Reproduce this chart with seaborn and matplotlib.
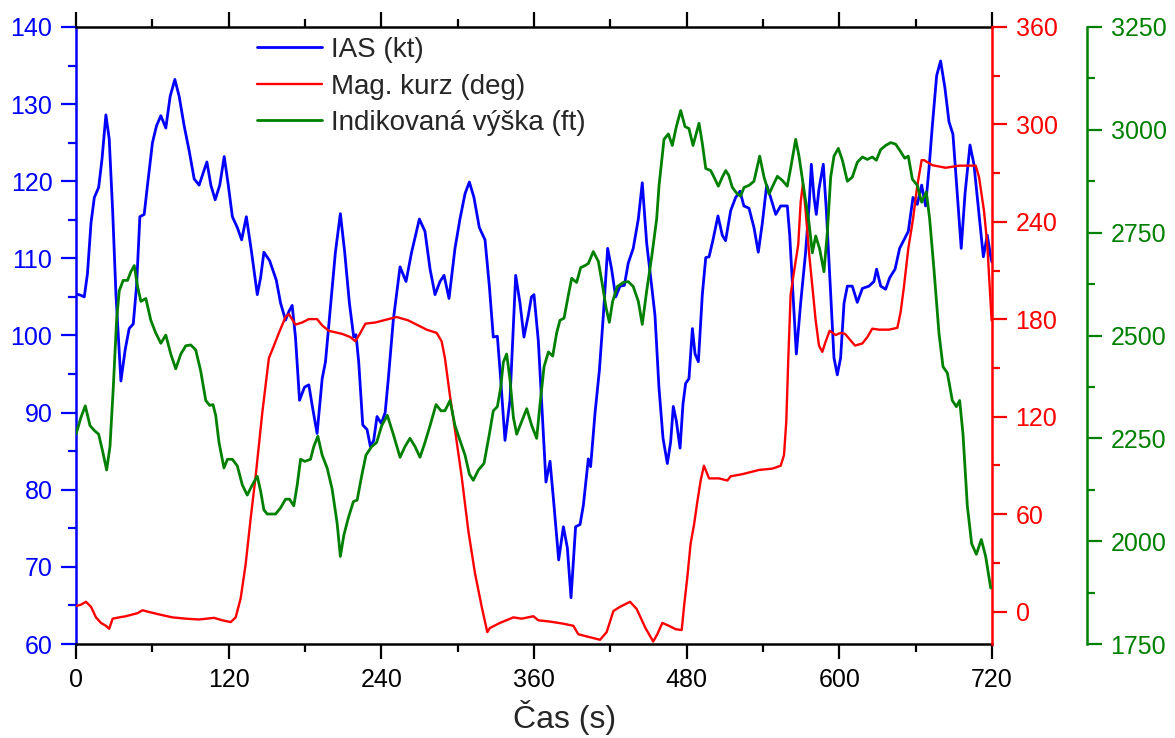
import matplotlib
matplotlib.use("Agg")
import matplotlib.pyplot as plt
from matplotlib.ticker import MultipleLocator
import pandas as pd
import seaborn as sns

# --- flight record: indicated airspeed ---
ias_t = [0, 4, 6.5, 9, 11.8, 14.4, 17.8, 20.4, 23.5, 26.1, 28.8, 31.4, 35.3, 38.7, 41.8, 45, 47.6,
         50.2, 53.6, 56.2, 60.1, 63.3, 66.7, 70.6, 74, 77.7, 81.1, 85, 89, 92.9, 96.8, 100, 102.9,
         106, 109.4, 113, 116.5, 119.7, 122.9, 126.8, 130.2, 133.9, 138, 142.5, 145.1, 147.7, 152.2,
         157.4, 160.8, 164.7, 167.3, 169.9, 172.5, 175.7, 179.6, 183, 186.1, 189.5, 193.5, 196.1,
         200, 203.9, 207.8, 211.2, 214.9, 218.3, 220.1, 222.2, 225.4, 228.8, 231.4, 234, 236.6, 240,
         243, 245.5, 249.4, 254.7, 259.4, 263.8, 269.9, 274.3, 278.3, 282.2, 286.1, 289.3, 293.2,
         297.9, 301.8, 305.8, 309.2, 312.8, 317, 321.5, 324.9, 328, 331.2, 333.8, 337.2, 341.1,
         345.6, 349, 352.1, 355.5, 358, 360, 363.4, 366.8, 369.4, 372.6, 375.7, 379.4, 383.1, 386.2,
         389.1, 392.7, 396.2, 398.8, 402.7, 404.5, 408, 411.4, 414.5, 417.9, 421, 424.2, 427.6, 431,
         434.1, 438, 442, 445.1, 448.6, 452.5, 455.1, 458.2, 461.4, 464.8, 467.4, 469.5, 471.9,
         474.8, 477.1, 479.2, 481.8, 484.5, 486.6, 489.2, 492.3, 495, 497.6, 500.7, 504.6, 508,
         510.6, 514.6, 518.5, 521.9, 525, 529, 532.9, 536.3, 539.5, 542.9, 546, 550, 553.9, 559.1,
         561, 563.6, 566.2, 569.6, 573.5, 576.2, 578, 580.1, 581.9, 584, 587.4, 589.8, 593.2, 595.8,
         598.4, 601, 603.7, 606.3, 610.2, 614.1, 618.1, 623.3, 627.2, 629.3, 632.5, 636.4, 639.6,
         643.8, 647.4, 650.8, 654.2, 657.9, 661.3, 664.7, 667.8, 670.5, 673.1, 676.5, 679.6, 683,
         686.2, 689.3, 692.7, 695.8, 698.8, 702.7, 705.8, 709.8, 713.2, 716.3, 719, 720]
ias_kt = [105.4, 105.2, 105, 108, 114.6, 117.9, 119.2, 122.8, 128.6, 125.5, 116.2, 105.3, 94.1, 98.2,
          100.9, 101.5, 106.4, 115.4, 115.7, 119.5, 125, 127.2, 128.5, 126.9, 131, 133.2, 131, 127.2,
          123.9, 120.3, 119.5, 121.1, 122.5, 119.5, 117.6, 119.5, 123.2, 119.5, 115.4, 114, 112.4,
          115.4, 110.8, 105.3, 107.5, 110.8, 109.7, 107.2, 104.2, 102, 103.1, 103.9, 99.8, 91.6, 93.3,
          93.6, 90.5, 87.3, 94.4, 96.6, 103.7, 110.8, 115.8, 110.8, 104.2, 99.8, 100.1, 96.6, 88.4,
          87.8, 85.6, 86.4, 89.5, 88.6, 90, 94.4, 102, 108.9, 107, 110.8, 115.1, 113.5, 108.6, 105.3,
          107, 107.8, 104.8, 111.3, 115.1, 118.4, 119.9, 117.9, 114, 112.4, 106.4, 99.8, 99.9, 94.4,
          86.4, 91.6, 107.8, 104.2, 99.8, 102.6, 105, 105.3, 99.3, 88.9, 81, 83.7, 78, 70.9, 75.2,
          72.5, 66, 75.2, 75.5, 78, 84, 83, 90, 95.5, 102.6, 111.3, 108.6, 105, 106.4, 106.5, 109.4,
          111.3, 115.1, 119.8, 111.9, 106.4, 102.6, 93.3, 86.7, 83.4, 86.2, 90.8, 88.9, 85.4, 91.1,
          93.8, 94.4, 100.9, 97.6, 96.6, 105.3, 110.1, 110.2, 112.4, 115.5, 113, 112.3, 116.2, 117.9,
          118.7, 116.8, 116.5, 114, 110.8, 114.6, 119.5, 117.9, 115.7, 116.8, 116.8, 113, 105.3, 97.6,
          104.2, 110.8, 116.8, 122.2, 117.9, 115.7, 119, 122.2, 116.2, 105.3, 97.1, 94.9, 97.1, 104.2,
          106.4, 106.4, 104.3, 106.1, 106.4, 107, 108.6, 106.4, 106, 107.5, 108.6, 111.3, 112.4, 113.5,
          117.9, 117, 119.5, 116.8, 121.7, 127.2, 133.7, 135.6, 132.1, 127.7, 126.1, 118.4, 111.3,
          118.4, 124.7, 122.2, 115.7, 110.2, 113, 110.2, 109.5]

# --- magnetic heading ---
hdg_t = [0, 3.9, 7.8, 11.8, 15.7, 19.6, 23.5, 26.1, 28.8, 34, 39.2, 44.4, 48.4, 52.3, 57.5, 65.4,
         75.8, 86.3, 96.7, 108.5, 115, 121.6, 125.5, 129.4, 133.3, 137.3, 141.2, 146.4, 151.6,
         155.6, 159.5, 164.7, 167.3, 172.5, 177.8, 183, 189.5, 193.5, 198.7, 209.2, 215.7, 219.6,
         223.5, 227.5, 235.3, 245.8, 252, 261.2, 267.8, 275.6, 283.5, 287.4, 290, 294, 297.9,
         303.1, 308.4, 313.6, 318.9, 323.3, 325.4, 333.3, 343.8, 350.3, 359.5, 363.4, 372.6, 383.1,
         391, 394.8, 401.4, 411.9, 417.1, 422.4, 427.6, 435.5, 440.7, 447.5, 453.7, 456.9, 460.9,
         466.1, 471.4, 476.1, 477.9, 480.5, 483.1, 485.8, 488.4, 491, 493.6, 497.6, 505.4, 512,
         514.6, 523.8, 536.9, 547.3, 553.9, 556.5, 558.3, 559.9, 561.7, 563.6, 565.7, 567.7, 569.6,
         571.4, 573.5, 576.2, 578.8, 581.4, 584, 586.6, 589.3, 592.4, 597.1, 601, 604.5, 608.1,
         612.3, 618.1, 622, 625.9, 631.2, 639, 645.6, 648.2, 650.8, 654.2, 657.9, 661.3, 664.7,
         666.6, 673.1, 683.6, 694.1, 707.2, 709.8, 713.7, 716.3, 718.2, 719.7]
hdg_deg = [3.4, 4.2, 6, 2.9, -3.6, -7, -8.8, -10.6, -4.4, -3.6, -2.9, -1.8, -1, 0.8, -0.3, -1.8,
           -3.6, -4.4, -4.9, -3.9, -5.4, -6.5, -3.6, 8, 28.8, 57.4, 83.3, 122.2, 156, 163.8, 171.6,
           181.4, 183.2, 176.7, 178, 180.1, 180.1, 176.2, 172.9, 171, 169, 166.4, 171.6, 177.3, 178,
           180.1, 181.4, 179.3, 176.7, 173.6, 171.6, 166.4, 156, 132.6, 111.9, 83.3, 49.6, 23.6, 2.9,
           -12.7, -10.1, -7, -3.6, -4.4, -2.9, -5.4, -6.2, -7.5, -8.8, -14, -15.3, -17.4, -12.7, 0.3,
           2.9, 6, 1.6, -10, -18.5, -14, -7, -8.8, -10.9, -11.4, 2.9, 21, 41.8, 53.5, 67.7, 80.7, 89.8,
           82, 82, 80.7, 83.3, 84.6, 87.2, 88, 89.8, 96.3, 117, 156, 195, 205.3, 215.7, 226, 252,
           263.7, 246.8, 220.9, 200.1, 179.3, 163.8, 159.9, 166.4, 172.9, 170.3, 171.6, 171, 167.7,
           163.8, 165.1, 169, 174.2, 173.6, 173.6, 174.7, 184.5, 200.1, 223.5, 241.6, 262.4, 278, 278,
           274.9, 273.3, 274.6, 274.6, 267.6, 246.8, 226, 200.1, 179.3]

# --- indicated altitude ---
alt_t = [0, 3.9, 7.3, 11, 14.4, 17.8, 20.9, 24.1, 26.7, 29.3, 31.9, 34, 37.1, 40.5, 43.1, 45.8,
         48.4, 51, 54.9, 58.8, 62.7, 66.7, 70.6, 74.5, 78.4, 82.4, 86.3, 90.2, 94.1, 98, 102, 105.1,
         107.7, 109.8, 112.4, 116.3, 119, 122.9, 126.8, 130.7, 134.6, 138.6, 142.5, 145.1, 147.7,
         150.3, 156.9, 160.8, 164.7, 167.8, 171.2, 173.9, 176.5, 179.9, 184.3, 186.9, 190.1, 193.5,
         197.4, 201.3, 205.2, 207.8, 210.5, 214, 218, 221, 224.5, 227.9, 232.4, 236.3, 240.3, 244.7,
         249.4, 254.7, 258.6, 262.5, 266.5, 270.4, 274.3, 278.3, 283, 286.9, 290, 294, 297.9, 301.8,
         305.8, 309.2, 312.3, 316.3, 320.7, 324.9, 328, 331.2, 333.8, 335.9, 338.5, 341.1, 343.8,
         346.4, 350.3, 354.3, 358.2, 362.1, 364.7, 367.9, 371.3, 374.7, 377.8, 380.4, 383.6, 387,
         389.6, 393.5, 396.7, 400.1, 402.7, 406.6, 410.6, 414, 416.6, 419.2, 421.8, 425.5, 430.2,
         434.1, 438, 442, 445.1, 448.6, 452.5, 456.4, 458.3, 462.2, 465.6, 468.7, 471.9, 475.3,
         478.7, 481.8, 485, 489.7, 492.3, 495, 498.9, 501.5, 504.9, 508, 510.7, 513, 515.9, 519.8,
         522.4, 525.1, 529, 532.9, 537.4, 540.8, 544.8, 547.9, 551.3, 555.2, 559.1, 561.7, 565.7,
         568.3, 572.2, 576.2, 578.8, 581.4, 584.5, 587.9, 590.6, 593.2, 595.8, 599.2, 602.4, 606.3,
         610.2, 614.1, 618.1, 622, 625.9, 629.1, 632.5, 636.4, 640.4, 644.3, 648.2, 651.4, 654.2,
         657.4, 661.3, 664.7, 668.4, 671, 674.4, 678.3, 681.5, 684.9, 688.8, 692, 694.6, 697.2,
         700.6, 704, 707.7, 711.6, 715, 719]
alt_ft = [2260, 2301, 2329, 2281, 2269, 2260, 2219, 2173, 2230, 2373, 2537, 2609, 2634, 2634, 2655,
          2670, 2619, 2583, 2590, 2537, 2506, 2481, 2501, 2455, 2419, 2455, 2475, 2477, 2465, 2414,
          2342, 2330, 2332, 2306, 2240, 2178, 2199, 2199, 2183, 2137, 2112, 2137, 2158, 2122, 2076,
          2066, 2066, 2081, 2102, 2102, 2086, 2137, 2199, 2194, 2199, 2230, 2255, 2209, 2178, 2127,
          2045, 1963, 2014, 2056, 2096, 2100, 2158, 2209, 2230, 2240, 2281, 2306, 2260, 2204, 2230,
          2250, 2230, 2204, 2240, 2281, 2332, 2317, 2317, 2342, 2281, 2245, 2209, 2163, 2148, 2173,
          2189, 2260, 2317, 2327, 2373, 2435, 2455, 2394, 2301, 2260, 2291, 2322, 2281, 2250, 2332,
          2424, 2460, 2450, 2506, 2537, 2542, 2598, 2639, 2629, 2665, 2670, 2675, 2704, 2680, 2619,
          2568, 2532, 2583, 2619, 2629, 2631, 2619, 2583, 2527, 2609, 2691, 2783, 2865, 2977, 2990,
          2962, 3008, 3047, 3008, 3003, 2962, 3016, 2967, 2906, 2901, 2885, 2863, 2885, 2901, 2890,
          2860, 2844, 2839, 2860, 2865, 2875, 2936, 2885, 2844, 2865, 2887, 2877, 2863, 2906, 2977,
          2936, 2854, 2773, 2701, 2742, 2711, 2655, 2752, 2885, 2936, 2955, 2926, 2875, 2885, 2921,
          2934, 2928, 2934, 2926, 2952, 2962, 2969, 2965, 2947, 2931, 2936, 2880, 2865, 2824, 2849,
          2783, 2660, 2506, 2424, 2409, 2342, 2327, 2342, 2260, 2086, 1994, 1968, 2004, 1963, 1886]

labels = ["IAS (kt)", "Mag. kurz (deg)", "Indikovaná výška (ft)"]
colors = ["#0000ff", "#ff0000", "#008000"]

ias = pd.DataFrame({"t": ias_t, "v": ias_kt})
hdg = pd.DataFrame({"t": hdg_t, "v": hdg_deg})
alt = pd.DataFrame({"t": alt_t, "v": alt_ft})

sns.set_theme(style="ticks")
plt.rcParams["font.family"] = ["Liberation Sans", "DejaVu Sans"]

W, H = 1175, 738
fig = plt.figure(figsize=(W / 100, H / 100), dpi=100)
x0, x1, y0, y1 = 76, 992, 27, 644
ax = fig.add_axes([x0 / W, 1 - y1 / H, (x1 - x0) / W, (y1 - y0) / H])
ax_r = ax.twinx()
ax_g = ax.twinx()
ax_g.spines["right"].set_position(("axes", 1 + 95 / (x1 - x0)))

sns.lineplot(data=ias, x="t", y="v", ax=ax, color=colors[0], lw=2.0, label=labels[0],
             estimator=None, sort=False)
sns.lineplot(data=hdg, x="t", y="v", ax=ax_r, color=colors[1], lw=1.7, label=labels[1],
             estimator=None, sort=False)
sns.lineplot(data=alt, x="t", y="v", ax=ax_g, color=colors[2], lw=2.0, label=labels[2],
             estimator=None, sort=False)

handles = []
for a in (ax, ax_r, ax_g):
    h, _ = a.get_legend_handles_labels()
    handles += h
    if a.get_legend() is not None:
        a.get_legend().remove()
    a.set_ylabel("")
    a.set_xlabel("")

fs = 18
MAJ, MIN, TW, PAD = 11, 6, 1.6, 6


def style_ticks(a, axis, color):
    a.tick_params(axis=axis, which="both", direction="out", width=TW, colors=color,
                  labelsize=fs, pad=PAD)
    a.tick_params(axis=axis, which="major", length=MAJ)
    a.tick_params(axis=axis, which="minor", length=MIN)


# x axis (time)
ax.set_xlim(0, 720)
ax.xaxis.set_major_locator(MultipleLocator(120))
ax.xaxis.set_minor_locator(MultipleLocator(60))
style_ticks(ax, "x", "black")
ax.tick_params(axis="x", which="both", top=True, bottom=True)
ax.set_xlabel("Čas (s)", fontsize=23)
ax.xaxis.set_label_coords((565 - x0) / (x1 - x0), (y1 - 700) / (y1 - y0))

# left: airspeed
ax.set_ylim(60, 140)
ax.yaxis.set_major_locator(MultipleLocator(10))
ax.yaxis.set_minor_locator(MultipleLocator(5))
style_ticks(ax, "y", colors[0])

# right: heading
ax_r.set_ylim(-20, 360)
ax_r.yaxis.set_major_locator(MultipleLocator(60))
ax_r.yaxis.set_minor_locator(MultipleLocator(30))
style_ticks(ax_r, "y", colors[1])

# offset right: altitude
ax_g.set_ylim(1750, 3250)
ax_g.yaxis.set_major_locator(MultipleLocator(250))
ax_g.yaxis.set_minor_locator(MultipleLocator(125))
style_ticks(ax_g, "y", colors[2])

for name in ("top", "bottom"):
    ax.spines[name].set_color("black")
    ax.spines[name].set_linewidth(1.8)
ax.spines["left"].set_color(colors[0])
ax.spines["left"].set_linewidth(1.8)
ax.spines["right"].set_visible(False)

for name in ("top", "bottom", "left"):
    ax_r.spines[name].set_visible(False)
    ax_g.spines[name].set_visible(False)
ax_r.spines["right"].set_color(colors[1])
ax_r.spines["right"].set_linewidth(1.8)
ax_g.spines["right"].set_color(colors[2])
ax_g.spines["right"].set_linewidth(1.8)

leg = ax_g.legend(handles, labels, loc="upper left",
                  bbox_to_anchor=((257 - x0) / (x1 - x0), (y1 - 37) / (y1 - y0)),
                  frameon=False, fontsize=20, handlelength=2.35, handletextpad=0.3,
                  labelspacing=0.38, borderpad=0, borderaxespad=0)

fig.savefig("out.png", dpi=100)
